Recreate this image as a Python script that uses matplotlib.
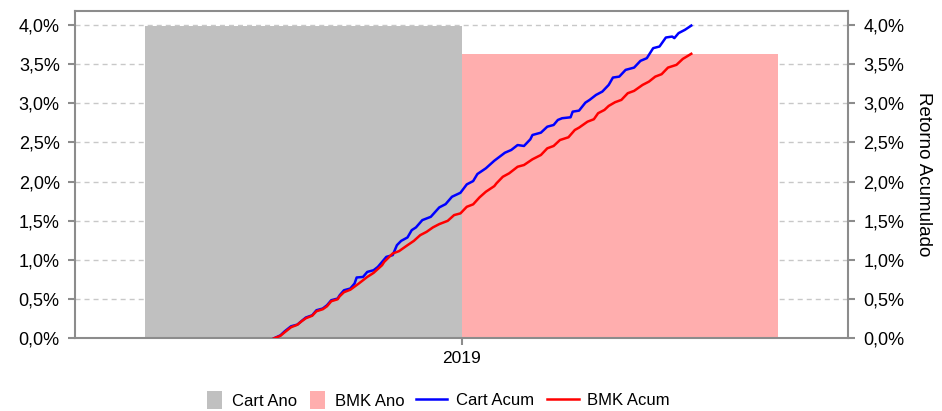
import numpy as np
import matplotlib
matplotlib.use('Agg')
import matplotlib.pyplot as plt
from matplotlib.ticker import FuncFormatter

plt.rcParams['font.family'] = ['Liberation Sans', 'DejaVu Sans']

anos = ['2019']
cart_ano = [3.99]
bmk_ano = [3.63]

# dia do ano / retorno acumulado (%)
cart_dias = [94, 97, 99, 102, 105, 107, 109, 112, 114, 117,
             119, 121, 124, 125, 127, 130, 132, 133, 136, 138,
             141, 143, 145, 147, 150, 152, 154, 157, 159, 161,
             164, 168, 172, 175, 178, 182, 185, 188, 190, 194,
             198, 203, 206, 209, 212, 215, 216, 220, 223, 226,
             228, 230, 234, 235, 238, 241, 243, 246, 249, 252,
             254, 257, 260, 264, 267, 270, 273, 276, 279, 282,
             283, 285, 288, 291]
cart_acum = [0.0, 0.038, 0.089, 0.153, 0.175, 0.221, 0.265, 0.294, 0.358, 0.380,
             0.422, 0.486, 0.507, 0.550, 0.613, 0.635, 0.699, 0.776, 0.783, 0.847,
             0.869, 0.911, 0.975, 1.039, 1.061, 1.188, 1.243, 1.287, 1.380, 1.415,
             1.508, 1.550, 1.670, 1.712, 1.806, 1.857, 1.964, 2.006, 2.096, 2.169,
             2.266, 2.368, 2.403, 2.466, 2.454, 2.539, 2.594, 2.624, 2.700, 2.722,
             2.786, 2.808, 2.820, 2.892, 2.905, 3.007, 3.042, 3.105, 3.148, 3.233,
             3.327, 3.339, 3.425, 3.454, 3.540, 3.574, 3.702, 3.723, 3.838, 3.850,
             3.830, 3.894, 3.936, 3.99]

bmk_dias = [94, 97, 99, 102, 105, 107, 109, 112, 114, 117,
            119, 121, 124, 125, 127, 130, 134, 138, 141, 145,
            146, 150, 153, 157, 160, 163, 166, 169, 172, 176,
            179, 182, 185, 188, 191, 194, 198, 199, 202, 205,
            209, 212, 216, 220, 223, 226, 229, 233, 236, 238,
            242, 245, 247, 250, 252, 255, 258, 261, 264, 268,
            271, 274, 277, 280, 284, 287, 291]
bmk_acum = [0.0, 0.032, 0.077, 0.141, 0.173, 0.217, 0.256, 0.288, 0.345, 0.371,
            0.409, 0.473, 0.498, 0.537, 0.588, 0.620, 0.699, 0.783, 0.835, 0.933,
            0.975, 1.082, 1.112, 1.188, 1.243, 1.316, 1.358, 1.415, 1.457, 1.499,
            1.572, 1.594, 1.678, 1.709, 1.798, 1.870, 1.942, 1.977, 2.061, 2.105,
            2.189, 2.211, 2.284, 2.339, 2.424, 2.454, 2.530, 2.565, 2.658, 2.688,
            2.764, 2.795, 2.872, 2.914, 2.965, 3.012, 3.042, 3.127, 3.157, 3.233,
            3.275, 3.339, 3.370, 3.454, 3.489, 3.565, 3.63]

CINZA = '#8c8c8c'


def fmtPct(v, pos):
    return ('%.1f%%' % v).replace('.', ',')


fig = plt.figure(figsize=(9.42, 4.11), dpi=100)
rect = [75 / 942, 1 - 338.3 / 411, 773 / 942, 327.6 / 411]
ax = fig.add_axes(rect)

x = np.arange(len(anos))
w = 0.409
b1 = ax.bar(x - w / 2, cart_ano, width=w, color='#C0C0C0', zorder=2, label='Cart Ano')
b2 = ax.bar(x + w / 2, bmk_ano, width=w, color='#FFAEAE', zorder=2, label='BMK Ano')
ax.set_xlim(-0.5, 0.5)
ax.set_xticks(x)
ax.set_xticklabels(anos)
ax.set_ylim(0, 4.18)
ax.set_yticks(np.arange(0, 4.01, 0.5))
ax.yaxis.set_major_formatter(FuncFormatter(fmtPct))
ax.yaxis.grid(True, linestyle=(0, (3.6, 2.9)), color='#C8C8C8', linewidth=1)
ax.set_axisbelow(True)
for s in ax.spines.values():
    s.set_color(CINZA)
    s.set_linewidth(1.5)
ax.tick_params(axis='both', length=5, width=1.5, color=CINZA)
ax.tick_params(axis='y', pad=6, labelsize=13)
ax.tick_params(axis='x', pad=4, labelsize=12.5)

# linhas acumuladas em eixo proprio (dias do ano)
ax2 = fig.add_axes(rect, frameon=False)
l1, = ax2.plot(cart_dias, cart_acum, color='#0000FF', linewidth=1.8, label='Cart Acum')
l2, = ax2.plot(bmk_dias, bmk_acum, color='#FF0000', linewidth=1.8, label='BMK Acum')
ax2.set_xlim(0, 365)
ax2.set_ylim(0, 4.18)
ax2.set_yticks(np.arange(0, 4.01, 0.5))
ax2.yaxis.set_major_formatter(FuncFormatter(fmtPct))
ax2.xaxis.set_visible(False)
ax2.yaxis.tick_right()
ax2.yaxis.set_label_position('right')
ax2.tick_params(axis='y', length=5, width=1.5, color=CINZA, labelsize=13, pad=6)
ax2.set_ylabel('Retorno Acumulado', rotation=270, fontsize=13.5, labelpad=20)

ly = 1 - 400 / 411
fig.legend(handles=[b1, b2], loc='center right', bbox_to_anchor=(405 / 942, ly),
           ncol=2, frameon=False, fontsize=12, handlelength=0.9, handleheight=1.3,
           handletextpad=0.6, columnspacing=0.8, borderpad=0, borderaxespad=0)
fig.legend(handles=[l1, l2], loc='center left', bbox_to_anchor=(415.7 / 942, ly),
           ncol=2, frameon=False, fontsize=12, handlelength=1.9,
           handletextpad=0.5, columnspacing=0.8, borderpad=0, borderaxespad=0)

fig.savefig('out.png', dpi=100)
